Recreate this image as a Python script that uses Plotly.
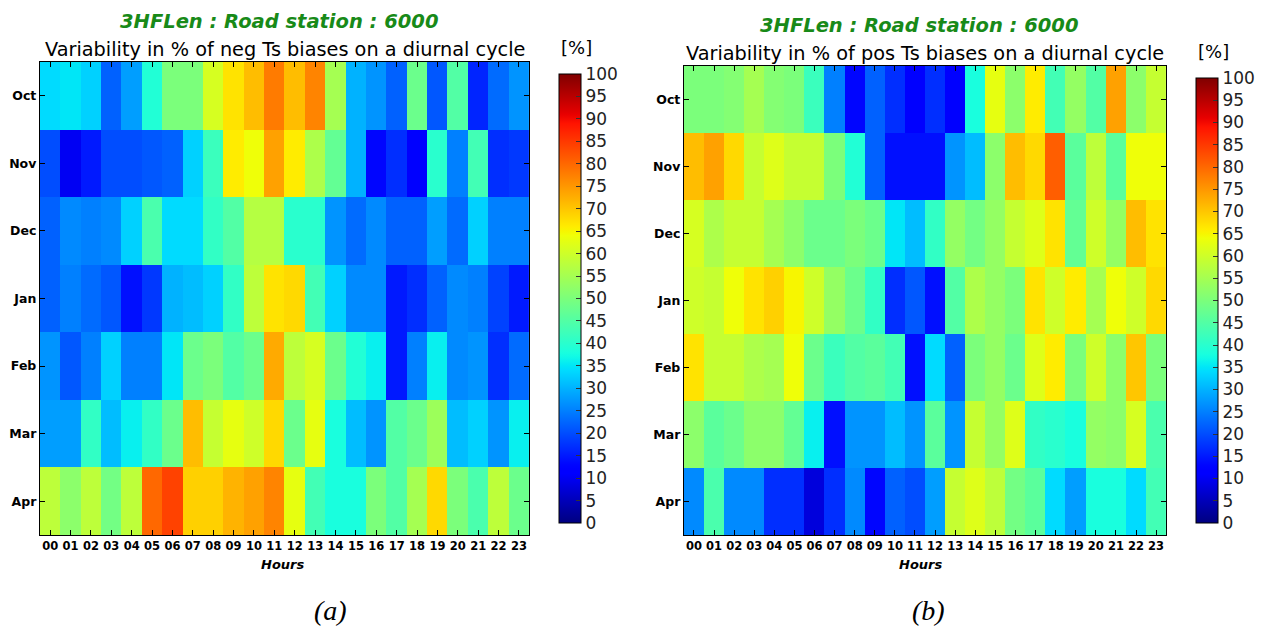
import numpy as np
import plotly.graph_objects as go

hours = [f"{h:02d}" for h in range(24)]
months = ["Oct", "Nov", "Dec", "Jan", "Feb", "Mar", "Apr"]

neg_oct = [34, 35, 33, 22, 28, 39, 50, 50, 61, 67, 71, 78, 71, 77, 55, 30, 27, 22, 48, 21, 45, 16, 23, 27]
neg_nov = [20, 10, 15, 20, 20, 21, 22, 33, 42, 66, 64, 74, 66, 56, 47, 30, 13, 17, 11, 40, 25, 43, 17, 18]
neg_dec = [22, 26, 25, 26, 33, 44, 34, 34, 41, 45, 57, 57, 40, 40, 27, 23, 26, 22, 22, 28, 23, 33, 25, 25]
neg_jan = [22, 25, 23, 21, 14, 18, 30, 31, 33, 41, 58, 67, 68, 43, 33, 26, 26, 15, 17, 22, 26, 25, 19, 15]
neg_feb = [27, 21, 25, 33, 25, 25, 35, 48, 50, 45, 48, 73, 58, 61, 48, 39, 36, 15, 25, 36, 26, 27, 17, 23]
neg_mar = [28, 28, 41, 31, 36, 41, 48, 71, 59, 63, 60, 68, 48, 63, 38, 31, 27, 45, 48, 54, 31, 33, 27, 36]
neg_apr = [58, 52, 58, 49, 58, 80, 84, 69, 69, 72, 74, 77, 63, 43, 38, 38, 50, 45, 55, 68, 50, 44, 58, 48]

pos_oct = [50, 50, 51, 55, 51, 50, 42, 25, 13, 22, 17, 11, 17, 11, 38, 63, 52, 66, 43, 53, 45, 74, 52, 59]
pos_nov = [71, 74, 68, 59, 62, 59, 59, 50, 39, 22, 14, 14, 14, 27, 31, 52, 71, 68, 81, 46, 58, 46, 64, 64]
pos_dec = [61, 56, 59, 59, 55, 52, 48, 48, 50, 48, 35, 31, 41, 53, 49, 53, 59, 62, 67, 47, 60, 53, 71, 67]
pos_jan = [60, 59, 64, 67, 69, 65, 60, 53, 48, 41, 17, 21, 14, 45, 56, 53, 50, 67, 60, 66, 55, 64, 60, 68]
pos_feb = [67, 59, 59, 56, 55, 64, 48, 42, 45, 46, 43, 14, 34, 22, 50, 53, 48, 62, 66, 50, 60, 52, 70, 50]
pos_mar = [52, 46, 48, 52, 52, 47, 36, 14, 27, 27, 31, 27, 46, 27, 59, 53, 62, 41, 40, 38, 53, 52, 61, 44]
pos_apr = [26, 44, 26, 26, 17, 17, 8, 17, 26, 13, 22, 20, 28, 59, 62, 58, 49, 46, 34, 28, 38, 38, 34, 43]

neg = [neg_oct, neg_nov, neg_dec, neg_jan, neg_feb, neg_mar, neg_apr]
pos = [pos_oct, pos_nov, pos_dec, pos_jan, pos_feb, pos_mar, pos_apr]
cbar_ticks = list(range(0, 101, 5))


# matplotlib "jet" colormap
def _interp(segs, t):
    xs = [s[0] for s in segs]
    ys = [s[1] for s in segs]
    return float(np.interp(t, xs, ys))


R = [(0, 0), (0.35, 0), (0.66, 1), (0.89, 1), (1, 0.5)]
G = [(0, 0), (0.125, 0), (0.375, 1), (0.64, 1), (0.91, 0), (1, 0)]
B = [(0, 0.5), (0.11, 1), (0.34, 1), (0.65, 0), (1, 0)]
jet = []
for t in np.linspace(0, 1, 101):
    r, g, b = (_interp(R, t), _interp(G, t), _interp(B, t))
    jet.append([float(t), f"rgb({int(round(r*255))},{int(round(g*255))},{int(round(b*255))})"])

W, H = 1261, 628
FONT = "DejaVu Sans"

fig = go.Figure()
fig.add_trace(go.Heatmap(z=neg, x=hours, y=months, coloraxis="coloraxis",
                         xaxis="x", yaxis="y", xgap=0, ygap=0))
fig.add_trace(go.Heatmap(z=pos, x=hours, y=months, coloraxis="coloraxis2",
                         xaxis="x2", yaxis="y2", xgap=0, ygap=0))


def px_x(p):
    return p / W


def px_y(p):
    return 1 - p / H


axis_common = dict(showgrid=False, zeroline=False, showline=True, linecolor="black",
                   linewidth=1.2, mirror="ticks", ticks="inside", ticklen=5,
                   tickcolor="black")
xfont = dict(family=FONT, size=11.5, color="black", weight="bold")
yfont = dict(family=FONT, size=12.5, color="black", weight="bold")

cb_common = dict(thickness=22, thicknessmode="pixels", lenmode="fraction",
                 xanchor="left", yanchor="middle", xpad=0, ypad=0,
                 outlinewidth=1, outlinecolor="black",
                 tickvals=cbar_ticks, ticks="inside", ticklen=5, tickcolor="#333",
                 tickfont=dict(family=FONT, size=17, color="#222"))

fig.update_layout(
    width=W, height=H,
    margin=dict(l=0, r=0, t=0, b=0),
    paper_bgcolor="white", plot_bgcolor="white",
    showlegend=False,
    xaxis=dict(domain=[px_x(40), px_x(530)], anchor="y", type="category", tickfont=xfont, **axis_common),
    yaxis=dict(domain=[px_y(535), px_y(62)], anchor="x", type="category", tickfont=yfont,
               categoryorder="array", categoryarray=months, autorange="reversed", **axis_common),
    xaxis2=dict(domain=[px_x(685), px_x(1168)], anchor="y2", type="category", tickfont=xfont, **axis_common),
    yaxis2=dict(domain=[px_y(535), px_y(66)], anchor="x2", type="category", tickfont=yfont,
                categoryorder="array", categoryarray=months, autorange="reversed", **axis_common),
    coloraxis=dict(colorscale=jet, cmin=0, cmax=100,
                   colorbar=dict(x=px_x(560), y=1 - 298.5 / H, len=449 / H, **cb_common)),
    coloraxis2=dict(colorscale=jet, cmin=0, cmax=100,
                    colorbar=dict(x=px_x(1198), y=1 - 300.5 / H, len=445 / H, **cb_common)),
)

anns = []


def add_text(x, y, text, size, color="black", family=FONT, weight="normal", style="normal"):
    anns.append(dict(x=px_x(x), y=px_y(y), xref="paper", yref="paper", text=text,
                     showarrow=False, xanchor="center", yanchor="middle",
                     font=dict(family=family, size=size, color=color, weight=weight, style=style)))


add_text(279, 21, "3HFLen : Road station : 6000", 19.5, color="#188a18", weight="bold", style="italic")
add_text(285, 49, "Variability in % of neg Ts biases on a diurnal cycle", 19.3)
add_text(577, 48, "[%]", 18)
add_text(283, 564, "Hours", 13, weight="bold", style="italic")
add_text(331, 610, "(a)", 28, family="Liberation Serif", style="italic")

add_text(920, 26, "3HFLen : Road station : 6000", 19.5, color="#188a18", weight="bold", style="italic")
add_text(926, 53, "Variability in % of pos Ts biases on a diurnal cycle", 19.3)
add_text(1215, 52, "[%]", 18)
add_text(922, 564, "Hours", 13, weight="bold", style="italic")
add_text(930, 610, "(b)", 28, family="Liberation Serif", style="italic")

fig.update_layout(annotations=anns)
fig.write_html("out.html")
